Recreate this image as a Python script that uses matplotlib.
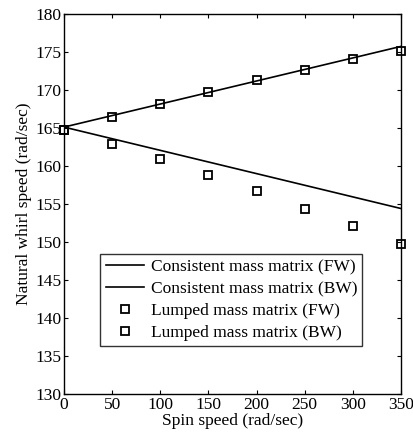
import matplotlib
matplotlib.use('Agg')
import matplotlib.pyplot as plt
import numpy as np

plt.rcParams['font.family'] = ['Liberation Serif', 'DejaVu Serif']
plt.rcParams['mathtext.fontset'] = 'stix'

# Data
spin = [0, 50, 100, 150, 200, 250, 300, 350]
line_x = [0, 350]
consistent_fw = [165.1, 175.7]
consistent_bw = [165.1, 154.4]
lumped_fw = [164.7, 166.4, 168.1, 169.75, 171.3, 172.6, 174.0, 175.1]
lumped_bw = [164.7, 162.9, 160.9, 158.8, 156.7, 154.4, 152.1, 149.7]

fig = plt.figure(figsize=(4.14, 4.41), dpi=100)
ax = fig.add_axes([0.1546, 0.106, 0.8140, 0.863])

ax.plot(line_x, consistent_fw, 'k-', linewidth=1.2, label='Consistent mass matrix (FW)')
ax.plot(line_x, consistent_bw, 'k-', linewidth=1.2, label='Consistent mass matrix (BW)')
ax.plot(spin, lumped_fw, 'ks', markerfacecolor='none', markersize=5.5, markeredgewidth=1.3,
        linestyle='none', label='Lumped mass matrix (FW)', clip_on=False)
ax.plot(spin, lumped_bw, 'ks', markerfacecolor='none', markersize=5.5, markeredgewidth=1.3,
        linestyle='none', label='Lumped mass matrix (BW)', clip_on=False)

ax.set_xlim(0, 350)
ax.set_ylim(130, 180)
ax.set_xticks(range(0, 351, 50))
ax.set_yticks(range(130, 181, 5))
ax.tick_params(direction='in', top=True, right=True, labelsize=12.5, length=3, pad=2)
for s in ax.spines.values():
    s.set_linewidth(1.0)

ax.set_xlabel('Spin speed (rad/sec)', fontsize=12.5, labelpad=0)
ax.set_ylabel('Natural whirl speed (rad/sec)', fontsize=12.5, labelpad=2)

leg = ax.legend(loc='upper left', bbox_to_anchor=(0.108, 0.368), fontsize=12.5,
                frameon=True, fancybox=False, edgecolor='black', handlelength=2.2,
                handletextpad=0.4, borderpad=0.3, labelspacing=0.33, borderaxespad=0)
leg.get_frame().set_linewidth(1.0)

plt.savefig('out.png', dpi=100, facecolor='white')
